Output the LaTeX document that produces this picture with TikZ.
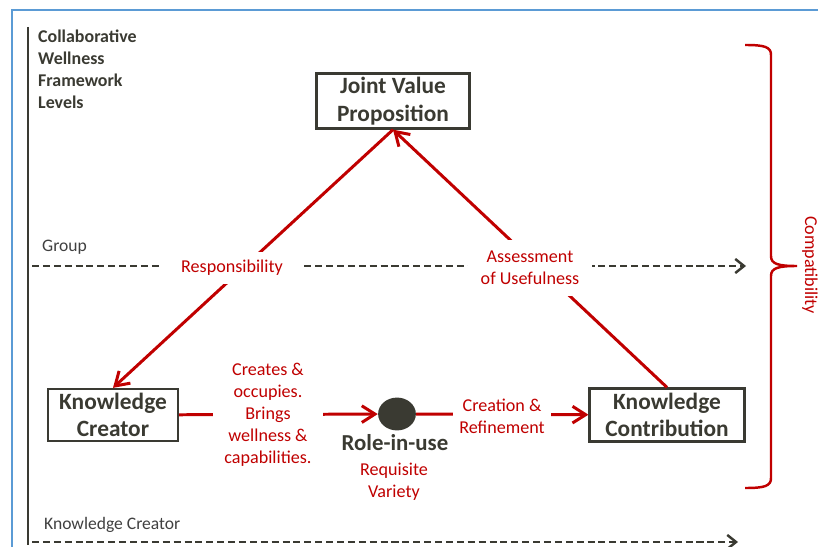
\documentclass[tikz,border=0pt]{standalone}
\usepackage{fontspec}
\setmainfont{Carlito}
\usetikzlibrary{arrows.meta,shapes.geometric}
\definecolor{cwred}{HTML}{C00000}
\definecolor{cwdark}{HTML}{3A3A32}
\definecolor{cwgray}{HTML}{404040}
\definecolor{cwblue}{HTML}{5B9BD5}
\tikzset{
  box/.style={draw=cwdark, line width=1.4pt, align=center, text=cwdark,
    font=\fontsize{13.3}{15.8}\selectfont\bfseries, inner sep=2pt},
  redlabel/.style={fill=white, text=cwred, align=center, inner sep=0pt,
    font=\fontsize{10.3}{12.5}\selectfont},
  redline/.style={draw=cwred, line width=1.7pt},
  level/.style={draw=cwdark, line width=1.4pt, dash pattern=on 4pt off 2.2pt,
    -{Straight Barb[length=5pt,width=8pt]}},
  leveltext/.style={text=cwgray, font=\fontsize{10}{12}\selectfont}
}
\begin{document}
\begin{tikzpicture}[x=0.02cm, y=-0.02cm,
    >={Straight Barb[length=7.5pt,width=9.5pt]}]
  \useasboundingbox (0,0) rectangle (818,547);
  % frame and levels
  \draw [cwblue, line width=1pt] (12,547) -- (12,10) -- (818,10);
  \draw [cwdark, line width=1.3pt] (28,27) -- (28,545);
  \node (title) [anchor=north west, align=left, text=cwdark,
    font=\fontsize{10.2}{12.5}\selectfont\bfseries] at (32,24)
    {Collaborative\\Wellness\\Framework\\Levels};
  \node (group) [leveltext, anchor=base west] at (36,252) {Group};
  \node (kclevel) [leveltext, anchor=base west] at (38,529) {Knowledge Creator};
  \coordinate (g0) at (32,266);
  \coordinate (g1) at (746,266);
  \coordinate (k0) at (32,542);
  \coordinate (k1) at (738,542);
  \draw [level] (g0) -- (g1);
  \draw [level] (k0) -- (k1);
  % boxes
  \node (jvp) [box, minimum width=87pt, minimum height=30pt] at (393,101)
    {Joint Value\\Proposition};
  \node (kc) [box, minimum width=74pt, minimum height=29.5pt] at (113,415)
    {Knowledge\\Creator};
  \node (kcon) [box, minimum width=88pt, minimum height=30pt] at (667,415)
    {Knowledge\\Contribution};
  \node (role) [ellipse, fill=cwdark, minimum width=21.5pt, minimum height=18.7pt,
    inner sep=0pt] at (397,414) {};
  \node (roletext) [text=cwdark, font=\fontsize{13}{15}\selectfont\bfseries]
    at (395,443) {Role-in-use};
  \node (variety) [redlabel] at (394,482) {Requisite\\Variety};
  % red connectors
  \draw [redline, ->] (kc) -- (role);
  \draw [redline, ->] (role) -- (kcon);
  \draw [redline, ->] (jvp.south) -- (kc.north);
  \draw [redline, ->] (kcon.north) -- (jvp.south);
  \node (resp) [redlabel, minimum width=80pt, minimum height=18pt] at (232,268)
    {Responsibility};
  \node (assess) [redlabel, minimum width=71pt, minimum height=32pt] at (530,268)
    {Assessment\\of Usefulness};
  \node (creates) [redlabel, minimum width=63pt] at (268,415)
    {Creates \&\\occupies.\\Brings\\wellness \&\\capabilities.};
  \node (creation) [redlabel, minimum width=56pt] at (502,416)
    {Creation \&\\Refinement};
  % brace
  \draw [cwred, line width=1.4pt] (745,45) .. controls (765,45) and (771,47) .. (771,55)
    -- (771,256) .. controls (771,264) and (778,266) .. (797,266)
    .. controls (778,266) and (771,268) .. (771,276)
    -- (771,478) .. controls (771,486) and (765,488) .. (745,488);
  \node (compat) [rotate=-90, text=cwred, font=\fontsize{10.3}{12}\selectfont]
    at (810,265) {Compatibility};
\end{tikzpicture}
\end{document}
